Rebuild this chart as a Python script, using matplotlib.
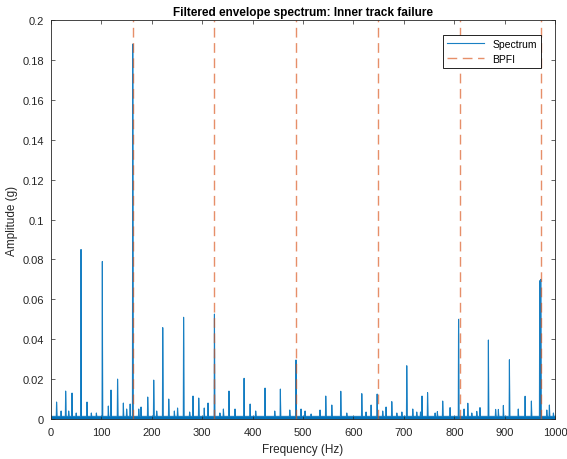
import numpy as np
import matplotlib.pyplot as plt

plt.rcParams['font.family'] = ['Liberation Sans', 'DejaVu Sans']

# peaks (Hz, g)
peak_freqs = [11, 20, 29, 35, 41.7, 50, 59.5, 71.4, 80, 90, 101.8, 113.7, 119, 132,
              143.5, 150, 157, 162.1, 174, 178.6, 191.8, 203.7, 209.6, 221.6, 233.5,
              244.7, 251, 263, 275, 281.7, 293, 304, 311.5, 324.2, 335, 342, 353, 365,
              383, 395, 406, 424.6, 443.8, 455, 473.6, 486, 496, 504, 516, 533.7, 545,
              557, 574.8, 586.7, 616.5, 625, 635, 647, 658, 664.7, 676, 686, 696, 705.7,
              717.6, 725.5, 733, 736, 747, 762, 766.5, 777, 791.7, 808.5, 819.4, 826.8,
              834.7, 844.6, 851, 867.7, 882, 887.5, 897.4, 909.4, 927, 940.5, 953,
              969.5, 971.5, 983.5, 988.7, 996.7]
peak_amps = [0.0085, 0.004, 0.014, 0.004, 0.013, 0.003, 0.085, 0.0085, 0.003, 0.003,
             0.079, 0.0065, 0.0145, 0.020, 0.008, 0.005, 0.0075, 0.188, 0.005, 0.006,
             0.011, 0.0195, 0.004, 0.0458, 0.010, 0.004, 0.0055, 0.051, 0.0035, 0.0115,
             0.0105, 0.0055, 0.008, 0.0526, 0.003, 0.005, 0.014, 0.005, 0.0204, 0.0075,
             0.004, 0.0155, 0.004, 0.015, 0.0045, 0.0296, 0.005, 0.004, 0.0025, 0.0045,
             0.0115, 0.007, 0.0139, 0.003, 0.0127, 0.0035, 0.007, 0.0125, 0.004, 0.006,
             0.0087, 0.003, 0.0035, 0.0267, 0.005, 0.0035, 0.0035, 0.0115, 0.0132, 0.003,
             0.0037, 0.009, 0.0057, 0.050, 0.005, 0.0079, 0.003, 0.0038, 0.0057, 0.0396,
             0.0048, 0.0048, 0.0068, 0.0297, 0.005, 0.0114, 0.009, 0.0693, 0.070, 0.0045,
             0.007, 0.003]
noise_floor = 0.0013

bpfi = 162.1
n_harm = 6

# build the line: floor, peak, floor around every spike
f = [0.0]
p = [noise_floor]
for fr, a in zip(peak_freqs, peak_amps):
    f += [fr - 0.6, fr, fr + 0.6]
    p += [noise_floor, a, noise_floor]
f.append(1000.0)
p.append(noise_floor)

fig = plt.figure(figsize=(5.67, 4.6), dpi=100)
ax = fig.add_axes([0.09, 0.087, 0.889, 0.867])

blue = '#0072BD'
ax.fill_between(f, 0, p, color=blue, lw=0)
ax.plot(f, p, color=blue, lw=0.8, alpha=0.9, label='Spectrum')
for k in range(1, n_harm + 1):
    ax.plot([k * bpfi, k * bpfi], [0, 0.2], color='#D95319', lw=1.0, alpha=0.65,
            linestyle=(0, (7, 4)), label='BPFI' if k == 1 else None)

ax.set_xlim(0, 1000)
ax.set_ylim(0, 0.2)
ax.set_xticks(np.arange(0, 1001, 100))
ax.set_yticks(np.arange(0, 0.201, 0.02))
ax.set_yticklabels(['0', '0.02', '0.04', '0.06', '0.08', '0.1', '0.12', '0.14',
                    '0.16', '0.18', '0.2'])
ax.tick_params(direction='in', top=True, right=True, labelsize=8, length=3,
               width=0.5, colors='#262626', pad=5)
ax.tick_params(axis='x', pad=6)
for s in ax.spines.values():
    s.set_linewidth(0.6)
    s.set_color('#262626')

ax.set_xlabel('Frequency (Hz)', fontsize=8.5, color='#262626', labelpad=4)
ax.set_ylabel('Amplitude (g)', fontsize=8.5, color='#262626', labelpad=3)
ax.set_title('Filtered envelope spectrum: Inner track failure', fontsize=8.5,
             fontweight='bold', pad=4)

leg = ax.legend(loc='upper right', fontsize=7.5, fancybox=False, framealpha=1,
                edgecolor='black', handlelength=3.5, borderpad=0.4,
                bbox_to_anchor=(0.982, 0.977))
leg.get_frame().set_linewidth(0.6)

plt.savefig('out.png', dpi=100)
